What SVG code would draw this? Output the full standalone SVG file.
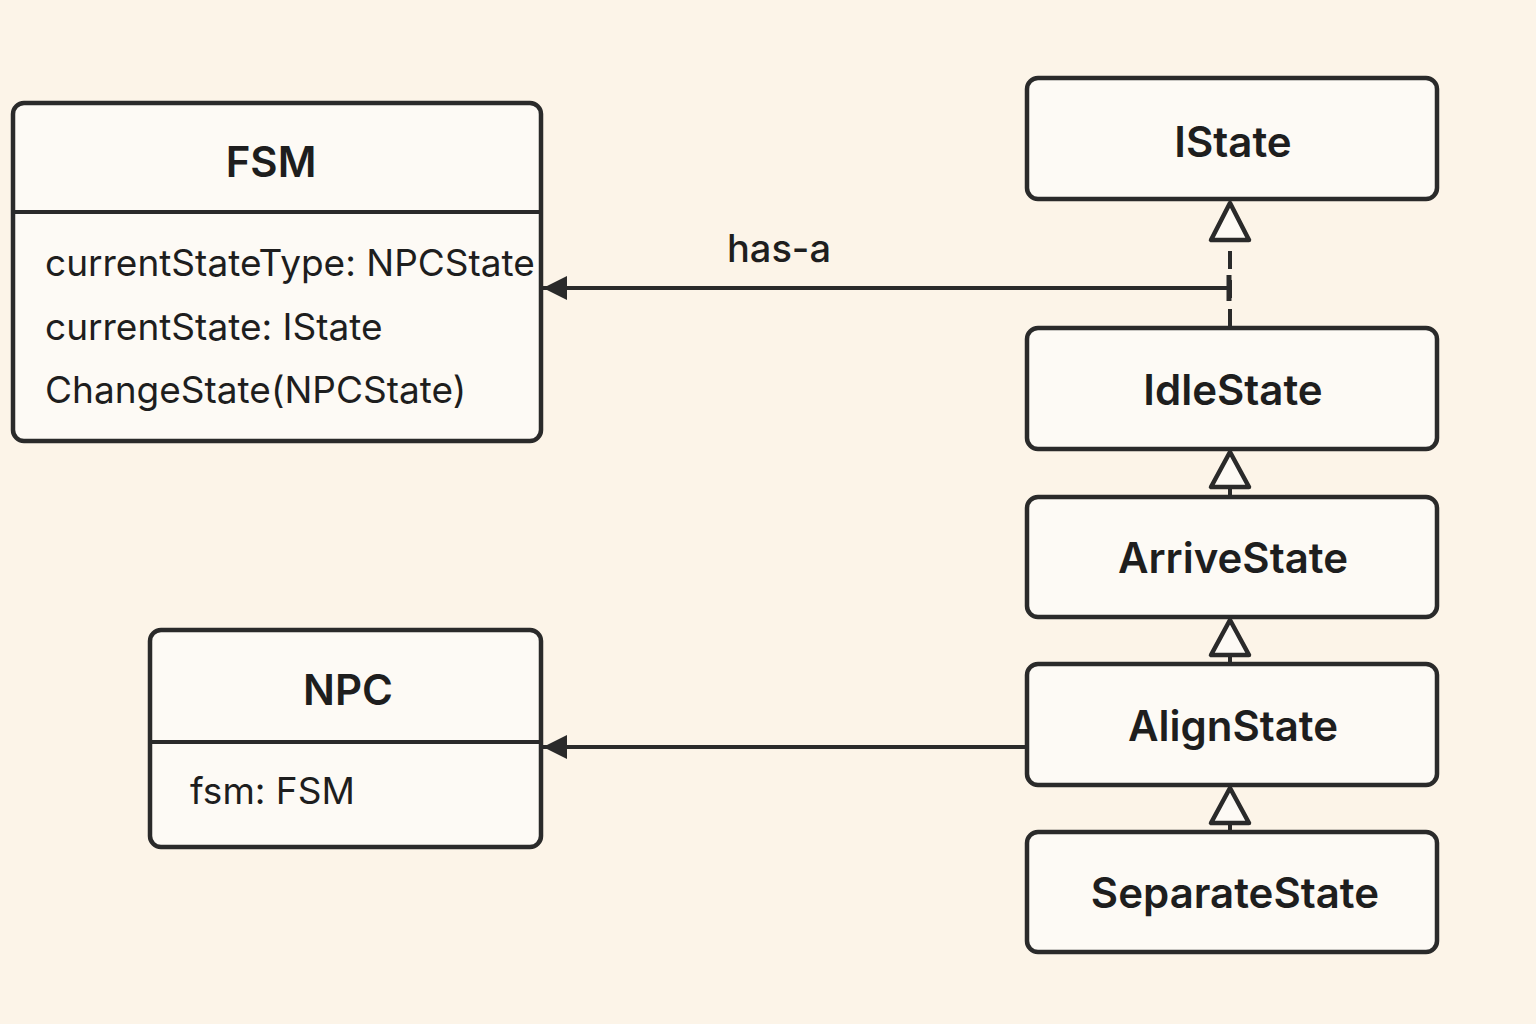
<svg xmlns="http://www.w3.org/2000/svg" width="1536" height="1024" viewBox="0 0 1536 1024">
<style>
.box{fill:#fdfaf5;stroke:#2a2a2a;stroke-width:4.5}
.div{stroke:#2a2a2a;stroke-width:4}
.title{font-family:Inter,"Liberation Sans",sans-serif;font-size:42px;font-weight:600;fill:#1e1e1e;text-anchor:middle}
.attr{font-family:Inter,"Liberation Sans",sans-serif;font-size:37px;font-weight:400;fill:#1e1e1e}
.line{stroke:#2a2a2a;stroke-width:4;fill:none}
.tri{fill:#fdfaf5;stroke:#2a2a2a;stroke-width:4.5;stroke-linejoin:round}
</style>
<defs>
<marker id="filled" markerWidth="28" markerHeight="26" refX="26" refY="12" orient="auto" markerUnits="userSpaceOnUse" viewBox="0 0 28 24">
<path d="M2,0 L26,12 L2,24 Z" fill="#2a2a2a"/>
</marker>
</defs>
<rect width="1536" height="1024" fill="#fcf4e8"/>

<g id="FSM">
<rect class="box" x="13" y="103" width="528" height="338" rx="11"/>
<line class="div" x1="13" y1="212" x2="541" y2="212"/>
<text class="title" x="271" y="177">FSM</text>
<text class="attr" x="45" y="276">currentStateType: NPCState</text>
<text class="attr" x="45" y="340">currentState: IState</text>
<text class="attr" x="45" y="403">ChangeState(NPCState)</text>
</g>

<g id="NPC">
<rect class="box" x="150" y="630" width="391" height="217" rx="11"/>
<line class="div" x1="150" y1="742" x2="541" y2="742"/>
<text class="title" x="348" y="705">NPC</text>
<text class="attr" x="190" y="804">fsm: FSM</text>
</g>

<g id="IState">
<rect class="box" x="1027" y="78" width="410" height="121" rx="11"/>
<text class="title" x="1233" y="157">IState</text>
</g>
<g id="IdleState">
<rect class="box" x="1027" y="328" width="410" height="121" rx="11"/>
<text class="title" x="1233" y="405">IdleState</text>
</g>
<g id="ArriveState">
<rect class="box" x="1027" y="497" width="410" height="120" rx="11"/>
<text class="title" x="1233" y="573">ArriveState</text>
</g>
<g id="AlignState">
<rect class="box" x="1027" y="664" width="410" height="121" rx="11"/>
<text class="title" x="1233" y="741">AlignState</text>
</g>
<g id="SeparateState">
<rect class="box" x="1027" y="832" width="410" height="120" rx="11"/>
<text class="title" x="1235" y="908">SeparateState</text>
</g>

<g id="connectors">
<line class="line" x1="1228" y1="288" x2="543" y2="288" marker-end="url(#filled)"/>
<line class="line" x1="1229" y1="275" x2="1229" y2="301" style="stroke-width:5"/>
<line class="line" x1="1230" y1="327" x2="1230" y2="240" stroke-dasharray="18 11"/>
<polygon class="tri" points="1230,203 1211,240 1249,240"/>
<line class="line" x1="1230" y1="487" x2="1230" y2="497"/>
<polygon class="tri" points="1230,452 1211,487 1249,487"/>
<line class="line" x1="1230" y1="655" x2="1230" y2="664"/>
<polygon class="tri" points="1230,620 1211,655 1249,655"/>
<line class="line" x1="1230" y1="823" x2="1230" y2="832"/>
<polygon class="tri" points="1230,788 1211,823 1249,823"/>
<line class="line" x1="1025" y1="747" x2="543" y2="747" marker-end="url(#filled)"/>
<text x="779" y="262" class="attr" text-anchor="middle" style="font-size:38px;font-weight:500">has-a</text>
</g>
</svg>
